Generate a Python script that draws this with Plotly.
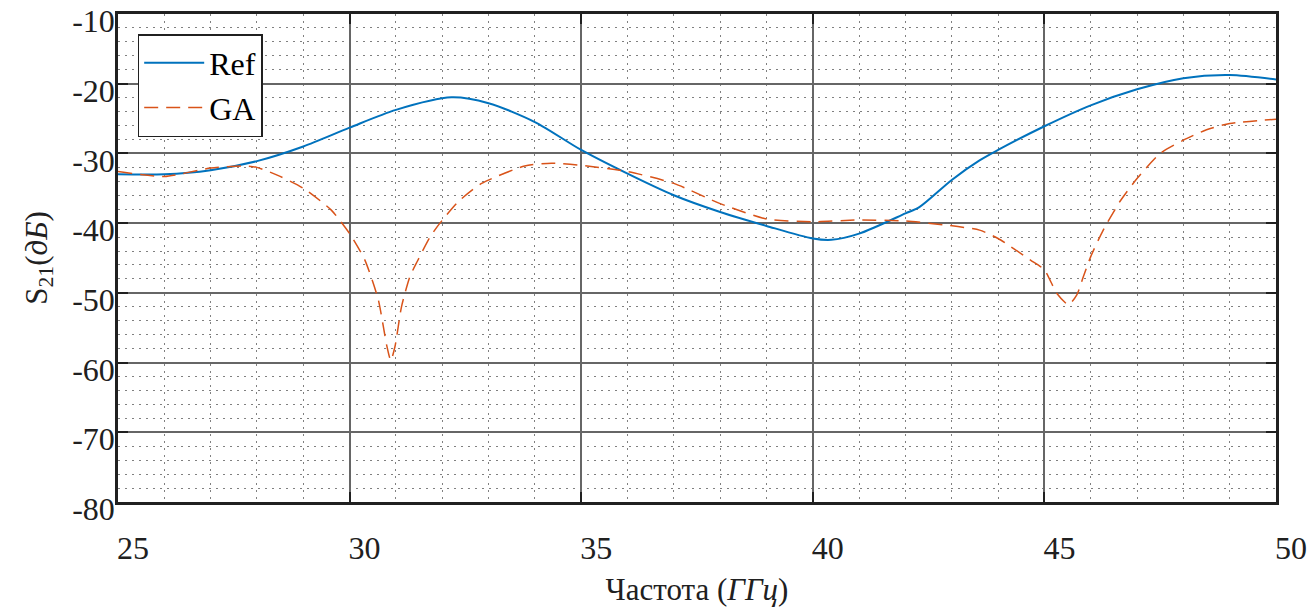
import plotly.graph_objects as go

# Frequency (GHz) and S21 (dB) values
ref_x = [25, 26, 27, 28, 29, 30, 31, 32.2, 33, 34, 35, 36, 37, 38, 39, 40, 40.4, 41, 42, 42.3, 43, 43.6, 44, 45, 46, 47, 48, 49, 50]
ref_y = [-33.0, -33.0, -32.4, -31.1, -29.0, -26.3, -23.75, -21.95, -22.8, -25.5, -29.5, -32.9, -36.0, -38.4, -40.4, -42.2, -42.4, -41.5, -38.6, -37.7, -33.8, -31.0, -29.5, -26.1, -23.1, -20.8, -19.2, -18.75, -19.4]

ga_x = [25, 26, 27, 27.66, 28, 28.5, 29, 29.6, 30, 30.33, 30.62, 30.8, 30.89, 30.98, 31.12, 31.3, 31.46, 31.74, 31.95, 32.35, 32.85, 33.78, 34.36, 35, 36, 37, 38, 39, 40, 41, 42, 42.9, 43.6, 44, 44.7, 45, 45.27, 45.52, 45.7, 45.84, 46, 46.27, 46.63, 47, 47.5, 48, 48.5, 49, 50]
ga_y = [-32.6, -33.3, -32.1, -31.8, -32.0, -33.3, -35.0, -38.1, -41.5, -45.3, -51.0, -57.5, -59.7, -57.7, -52.0, -47.7, -45.5, -41.95, -40.0, -36.9, -34.3, -31.8, -31.4, -31.7, -32.6, -34.3, -37.2, -39.4, -39.8, -39.55, -39.7, -40.3, -41.0, -42.2, -45.3, -46.7, -50.1, -51.7, -50.3, -47.7, -44.8, -41.0, -36.9, -33.6, -30.0, -28.1, -26.6, -25.7, -25.1]

x_ticks = [25, 30, 35, 40, 45, 50]
y_ticks = [-80, -70, -60, -50, -40, -30, -20, -10]

FONT = "Liberation Serif, Times New Roman, serif"
TXT = "#202020"

fig = go.Figure()
fig.add_trace(go.Scatter(x=ref_x, y=ref_y, mode="lines", name="Ref",
                         line=dict(color="#0072BD", width=2, shape="spline", smoothing=0.8)))
fig.add_trace(go.Scatter(x=ga_x, y=ga_y, mode="lines", name="GA",
                         line=dict(color="#D95319", width=1.5, dash="14px,8px", shape="spline", smoothing=0.6)))

axis_common = dict(
    showline=True, linecolor=TXT, linewidth=2.5, mirror="ticks",
    ticks="inside", ticklen=10, tickwidth=2, tickcolor=TXT,
    showgrid=True, gridcolor="#666666", gridwidth=2, zeroline=False,
    tickfont=dict(family=FONT, size=32, color=TXT),
    ticklabeloverflow="allow", automargin=False,
)

fig.update_xaxes(**axis_common, range=[25, 50], tickvals=x_ticks,
                 ticktext=[str(v) for v in x_ticks],
                 minor=dict(dtick=1, tick0=25, showgrid=True, gridcolor="#808080", griddash="1.5px,5.5px", gridwidth=1),
                 ticklabelstandoff=16, ticklabelshift=15,
                 title=dict(text="Частота (<i>ГГц</i>)", font=dict(family=FONT, size=31, color=TXT), standoff=14))
fig.update_yaxes(**axis_common, range=[-80, -10], tickvals=y_ticks,
                 ticktext=[str(v) for v in y_ticks],
                 minor=dict(dtick=2, tick0=-80, showgrid=True, gridcolor="#808080", griddash="1.5px,5.5px", gridwidth=1),
                 ticklabelstandoff=-6, ticklabelshift=7,
                 title=dict(text="S<sub>21</sub>(<i>дБ</i>)", font=dict(family=FONT, size=31, color=TXT), standoff=16))

fig.update_layout(
    width=1309, height=610,
    margin=dict(l=118, r=33, t=14, b=108, autoexpand=False),
    paper_bgcolor="white", plot_bgcolor="white",
    font=dict(family=FONT, color=TXT),
    legend=dict(x=0.017, y=0.959, xanchor="left", yanchor="top",
                bgcolor="white", bordercolor=TXT, borderwidth=1.5,
                font=dict(family=FONT, size=32, color="black"),
                itemwidth=60, tracegroupgap=0),
    showlegend=True,
)

fig.write_html("out.html")
